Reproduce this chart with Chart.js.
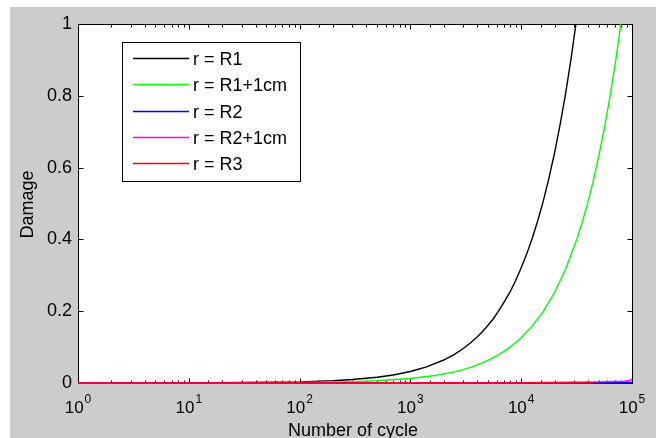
<!DOCTYPE html>
<html>
<head>
<meta charset="utf-8">
<script src="https://cdn.jsdelivr.net/npm/chart.js@4.4.1/dist/chart.umd.min.js"></script>
<style>
  html, body { margin: 0; padding: 0; background: #fff; }
  #wrap { width: 656px; height: 438px; }
</style>
</head>
<body>
<div id="wrap"><canvas id="damageChart" width="656" height="438"></canvas></div>
<script>
const seriesLabels = ["r = R1", "r = R1+1cm", "r = R2", "r = R2+1cm", "r = R3"];
const seriesColors = ["#000000", "#00ff00", "#0000ff", "#ff00ff", "#ff0000"];

// number of cycles / damage
const cyclesR1 = [1, 10, 100, 200, 300, 500, 700, 1000, 1400, 2000, 2500, 3000, 3500, 4000, 4500, 5000, 5600, 6300, 7100, 8000, 8900, 10000, 11200, 12600, 14100, 15800, 17800, 20000, 22400, 25100, 28200, 31200];
const damageR1 = [0.00003, 0.0003, 0.0032, 0.0064, 0.0096, 0.016, 0.0224, 0.032, 0.045, 0.064, 0.08, 0.096, 0.112, 0.128, 0.144, 0.16, 0.179, 0.202, 0.228, 0.256, 0.285, 0.321, 0.359, 0.404, 0.452, 0.506, 0.571, 0.641, 0.718, 0.804, 0.904, 1.0];

const cyclesR1cm = [1, 10, 100, 300, 500, 1000, 1600, 2500, 3200, 4000, 5000, 6300, 7900, 10000, 12600, 15800, 20000, 25100, 31600, 35500, 39800, 44700, 50100, 56200, 63100, 70800, 79400];
const damageR1cm = [0.00001, 0.00013, 0.0013, 0.0038, 0.0063, 0.0126, 0.02, 0.031, 0.04, 0.05, 0.063, 0.079, 0.099, 0.126, 0.159, 0.199, 0.252, 0.316, 0.398, 0.447, 0.501, 0.563, 0.631, 0.708, 0.795, 0.892, 1.0];

const cyclesR2 = [1, 100, 1000, 10000, 30000, 50000, 70000, 90000, 100000];
const damageR2 = [0, 0, 0.00002, 0.0002, 0.0006, 0.001, 0.0014, 0.0018, 0.002];

const cyclesR2cm = [1, 100, 1000, 10000, 30000, 50000, 70000, 85000, 95000, 100000];
const damageR2cm = [0, 0.00001, 0.0001, 0.001, 0.002, 0.003, 0.004, 0.005, 0.007, 0.011];

const cyclesR3 = [1, 10, 100, 1000, 10000, 45000];
const damageR3 = [0, 0, 0, 0, 0.00001, 0.00005];

const yTicks = [0, 0.2, 0.4, 0.6, 0.8, 1];
const xTickExponents = [0, 1, 2, 3, 4, 5];

const FONT = '"Liberation Sans", Arial, sans-serif';

const toPoints = (xs, ys) => xs.map((x, i) => ({ x: x, y: ys[i] }));
const allCycles = [cyclesR1, cyclesR1cm, cyclesR2, cyclesR2cm, cyclesR3];
const allDamage = [damageR1, damageR1cm, damageR2, damageR2cm, damageR3];

const datasets = seriesLabels.map((label, i) => ({
  label: label,
  data: toPoints(allCycles[i], allDamage[i]),
  borderColor: seriesColors[i],
  backgroundColor: seriesColors[i],
  borderWidth: 1.4,
  pointRadius: 0,
  fill: false,
  tension: 0,
  order: seriesLabels.length - i, // later series on top, like matlab
  clip: 3,
}));

// matlab-ish frame: gray figure, boxed axes, inward ticks, legend, labels
const matlabFrame = {
  id: "matlabFrame",
  beforeDraw(chart) {
    const { ctx, chartArea: a } = chart;
    ctx.save();
    ctx.fillStyle = "#ffffff";
    ctx.fillRect(0, 0, chart.width, chart.height);
    ctx.fillStyle = "#cccccc";
    ctx.fillRect(10, 7, chart.width - 10, chart.height - 7);
    ctx.fillStyle = "#ffffff";
    ctx.fillRect(a.left, a.top, a.right - a.left, a.bottom - a.top);
    ctx.restore();
  },
  beforeDatasetsDraw(chart) {
    const { ctx, chartArea: a } = chart;
    const xs = chart.scales.x;
    const ys = chart.scales.y;
    const L = Math.round(a.left) + 0.5;
    const R = Math.round(a.right) + 0.5;
    const T = Math.round(a.top) + 0.5;
    const B = Math.round(a.bottom) + 0.5;
    ctx.save();
    ctx.strokeStyle = "#000";
    ctx.lineWidth = 1;
    ctx.strokeRect(L, T, R - L, B - T);

    // x ticks (log: majors + minors)
    ctx.beginPath();
    xs.ticks.forEach((t) => {
      const e = Math.log10(t.value);
      const major = Math.abs(e - Math.round(e)) < 1e-9;
      const len = major ? 5 : 3;
      const px = Math.round(xs.getPixelForValue(t.value)) + 0.5;
      ctx.moveTo(px, B); ctx.lineTo(px, B - len);
      ctx.moveTo(px, T); ctx.lineTo(px, T + len);
    });
    // y ticks
    yTicks.forEach((v) => {
      const py = Math.round(ys.getPixelForValue(v)) + 0.5;
      ctx.moveTo(L, py); ctx.lineTo(L + 5, py);
      ctx.moveTo(R, py); ctx.lineTo(R - 5, py);
    });
    ctx.stroke();
    ctx.restore();
  },
  afterDraw(chart) {
    const { ctx, chartArea: a } = chart;
    const xs = chart.scales.x;
    ctx.save();

    // x tick labels 10^k
    ctx.fillStyle = "#000";
    ctx.textBaseline = "alphabetic";
    ctx.textAlign = "left";
    xTickExponents.forEach((k) => {
      const px = xs.getPixelForValue(Math.pow(10, k));
      ctx.font = "17px " + FONT;
      const wBase = ctx.measureText("10").width;
      ctx.font = "12px " + FONT;
      const wExp = ctx.measureText(String(k)).width;
      const x0 = px - (wBase + wExp + 1) / 2;
      ctx.font = "17px " + FONT;
      ctx.fillText("10", x0, 413);
      ctx.font = "12px " + FONT;
      ctx.fillText(String(k), x0 + wBase + 1, 403);
    });

    // axis titles
    ctx.font = "18px " + FONT;
    ctx.textAlign = "center";
    ctx.fillText("Number of cycle", (a.left + a.right) / 2 - 2, 436);
    ctx.save();
    ctx.translate(33, (a.top + a.bottom) / 2 + 1);
    ctx.rotate(-Math.PI / 2);
    ctx.fillText("Damage", 0, 0);
    ctx.restore();

    // legend
    const lx = 122.5, ly = 42.5, lw = 178, lh = 139;
    ctx.fillStyle = "#fff";
    ctx.fillRect(lx, ly, lw, lh);
    ctx.strokeStyle = "#000";
    ctx.lineWidth = 1;
    ctx.strokeRect(lx, ly, lw, lh);
    ctx.font = "18px " + FONT;
    ctx.textAlign = "left";
    ctx.textBaseline = "middle";
    seriesLabels.forEach((label, i) => {
      const y = Math.round(58 + i * 26.3) + 0.5;
      ctx.beginPath();
      ctx.strokeStyle = seriesColors[i];
      ctx.lineWidth = 1.4;
      ctx.moveTo(133, y);
      ctx.lineTo(189, y);
      ctx.stroke();
      ctx.fillStyle = "#000";
      ctx.fillText(label, 193, y + 2);
    });
    ctx.restore();
  },
};

new Chart(document.getElementById("damageChart"), {
  type: "line",
  data: { datasets: datasets },
  options: {
    responsive: false,
    animation: false,
    devicePixelRatio: 1,
    layout: { padding: { left: 0, right: 24, top: 24, bottom: 0 } },
    plugins: {
      legend: { display: false },
      tooltip: { enabled: false },
    },
    scales: {
      x: {
        type: "logarithmic",
        min: 1,
        max: 100000,
        ticks: { display: false },
        grid: { display: false, drawTicks: false },
        border: { display: false },
        afterFit: (s) => { s.height = 55; },
      },
      y: {
        type: "linear",
        min: 0,
        max: 1,
        afterBuildTicks: (s) => { s.ticks = yTicks.map((v) => ({ value: v })); },
        ticks: {
          padding: 6,
          color: "#000",
          font: { family: FONT, size: 18 },
          callback: (v) => String(Math.round(v * 10) / 10),
        },
        grid: { display: false, drawTicks: false },
        border: { display: false },
        afterFit: (s) => { s.width = 78; },
      },
    },
  },
  plugins: [matlabFrame],
});
</script>
</body>
</html>
